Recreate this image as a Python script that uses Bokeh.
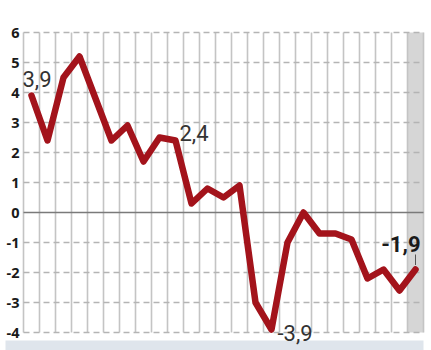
from bokeh.plotting import figure
from bokeh.embed import file_html
from bokeh.resources import INLINE
from bokeh.models import Range1d, ColumnDataSource
from bokeh.core.properties import value

# ---- data ----
values = [3.9, 2.4, 4.5, 5.2, 3.8, 2.4, 2.9, 1.7, 2.5, 2.4, 0.3, 0.8, 0.5, 0.9,
          -3.0, -3.9, -1.0, 0.0, -0.7, -0.7, -0.9, -2.2, -1.9, -2.6, -1.9]
y_ticks = [-4, -3, -2, -1, 0, 1, 2, 3, 4, 5, 6]
y_tick_labels = ["-4", "-3", "-2", "-1", "0", "1", "2", "3", "4", "5", "6"]
label_idx = [0, 9, 15, 24]
label_text = ["3,9", "2,4", "-3,9", "-1,9"]

n = len(values)
xs = list(range(n))
ymin, ymax = y_ticks[0], y_ticks[-1]

# pixel geometry: 16 px per column, 30 px per unit
W, H = 431, 350
px_col, px_unit = 16, 30
x0_px, zero_px = 31, 212
x_range = Range1d((0 - x0_px) / px_col, (W - x0_px) / px_col)
y_range = Range1d((zero_px - H) / px_unit, zero_px / px_unit)

p = figure(width=W, height=H, x_range=x_range, y_range=y_range,
           x_axis_type=None, y_axis_type=None, toolbar_location=None,
           output_backend="svg", min_border=0)
p.outline_line_color = None
p.background_fill_color = "white"
p.border_fill_color = "white"
p.xgrid.visible = False
p.ygrid.visible = False

left_edge = -0.5
right_edge = n - 0.5

# bottom bar
p.quad(left=[(5 - x0_px) / px_col], right=[right_edge], top=[ymin - 8 / px_unit],
       bottom=[ymin - 18 / px_unit], fill_color="#dfe5ec", line_color=None)

# shaded last column
p.quad(left=[n - 1.5], right=[right_edge], top=[ymax], bottom=[ymin],
       fill_color="#d6d6d6", line_color=None)

# vertical gridlines at column boundaries
vx = [i - 0.5 for i in range(n + 1)]
p.segment(x0=vx, y0=[ymin] * len(vx), x1=vx, y1=[ymax] * len(vx),
          line_color="#c4c4c4", line_width=1.6)

# horizontal dashed gridlines
hy = [t for t in y_ticks if t != 0]
p.segment(x0=[left_edge] * len(hy), y0=hy, x1=[right_edge] * len(hy), y1=hy,
          line_color="#b4b4b4", line_width=1.3, line_dash="6 4")
# zero line
p.segment(x0=[left_edge], y0=[0], x1=[right_edge], y1=[0],
          line_color="#7a7a7a", line_width=1.4)

# y tick labels
p.text(x=[(19 - x0_px) / px_col] * len(y_ticks), y=y_ticks, text=y_tick_labels,
       text_align="right", text_baseline="alphabetic",
       text_font=value("Open Sans"), text_font_style="bold",
       text_font_size=value("14.5px"), text_color="#1a1a1a")

# main line
p.line(xs, values, line_color="#a3131b", line_width=6.5, line_join="round",
       line_cap="round")

# annotation tick for last value
last = n - 1
p.segment(x0=[last], y0=[values[last] + 0.15], x1=[last], y1=[values[last] + 0.5],
          line_color="#555555", line_width=1)

# value labels
lx = [xs[i] for i in label_idx]
ly = [values[i] for i in label_idx]
src = ColumnDataSource(dict(x=lx[:3], y=ly[:3], t=label_text[:3],
                            xo=[-9, 4, 6], yo=[-17, -8, 3]))
p.text(x="x", y="y", text="t", x_offset="xo", y_offset="yo", source=src,
       text_align="left", text_baseline="alphabetic",
       text_font=value("Roboto"), text_font_size=value("22px"),
       text_color="#333333")
p.text(x=[lx[3]], y=[ly[3]], text=[label_text[3]], x_offset=5, y_offset=-26,
       text_align="right", text_baseline="alphabetic",
       text_font=value("Roboto"), text_font_style="bold",
       text_font_size=value("22px"), text_color="#1a1a1a")

open("out.html", "w").write(file_html(p, INLINE))
